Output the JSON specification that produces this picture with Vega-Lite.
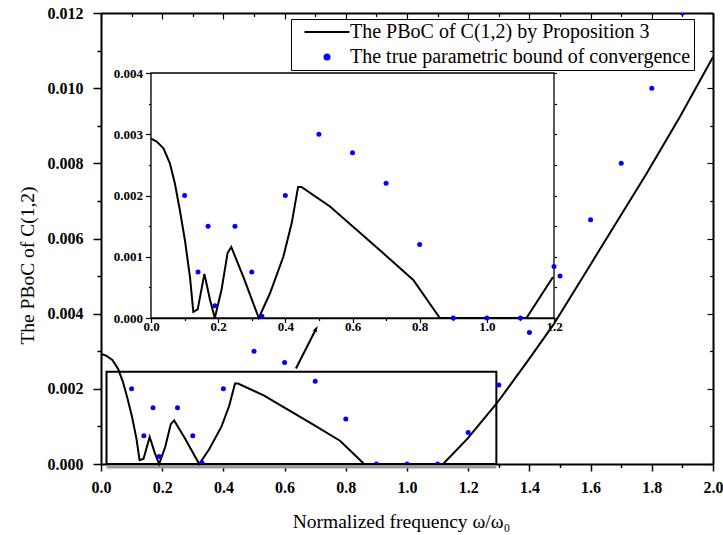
{
  "$schema": "https://vega.github.io/schema/vega-lite/v6.json",
  "width": 612,
  "height": 451,
  "autosize": {"type": "none"},
  "padding": {"left": 101, "top": 13, "right": 10, "bottom": 71},
  "background": "white",
  "config": {
    "view": {"stroke": null},
    "axis": {
      "grid": false,
      "domainColor": "black",
      "tickColor": "black",
      "labelColor": "black",
      "titleColor": "black",
      "labelFont": "Liberation Serif",
      "titleFont": "Liberation Serif",
      "labelFontWeight": "bold",
      "titleFontWeight": "normal",
      "labelFlush": false,
      "labelOverlap": false,
      "labelBound": false
    }
  },
  "datasets": {
    "curve": [
      {"x": 0.0, "y": 0.00293, "series": "The PBoC of C(1,2) by Proposition 3"},
      {"x": 0.017, "y": 0.00288, "series": "The PBoC of C(1,2) by Proposition 3"},
      {"x": 0.037, "y": 0.00277, "series": "The PBoC of C(1,2) by Proposition 3"},
      {"x": 0.056, "y": 0.00253, "series": "The PBoC of C(1,2) by Proposition 3"},
      {"x": 0.071, "y": 0.0022, "series": "The PBoC of C(1,2) by Proposition 3"},
      {"x": 0.086, "y": 0.00176, "series": "The PBoC of C(1,2) by Proposition 3"},
      {"x": 0.101, "y": 0.00127, "series": "The PBoC of C(1,2) by Proposition 3"},
      {"x": 0.116, "y": 0.00067, "series": "The PBoC of C(1,2) by Proposition 3"},
      {"x": 0.126, "y": 0.0001, "series": "The PBoC of C(1,2) by Proposition 3"},
      {"x": 0.139, "y": 0.00014, "series": "The PBoC of C(1,2) by Proposition 3"},
      {"x": 0.159, "y": 0.00072, "series": "The PBoC of C(1,2) by Proposition 3"},
      {"x": 0.176, "y": 0.00029, "series": "The PBoC of C(1,2) by Proposition 3"},
      {"x": 0.19, "y": 0.0, "series": "The PBoC of C(1,2) by Proposition 3"},
      {"x": 0.21, "y": 0.00046, "series": "The PBoC of C(1,2) by Proposition 3"},
      {"x": 0.228, "y": 0.00106, "series": "The PBoC of C(1,2) by Proposition 3"},
      {"x": 0.239, "y": 0.00116, "series": "The PBoC of C(1,2) by Proposition 3"},
      {"x": 0.275, "y": 0.00067, "series": "The PBoC of C(1,2) by Proposition 3"},
      {"x": 0.321, "y": 0.0, "series": "The PBoC of C(1,2) by Proposition 3"},
      {"x": 0.354, "y": 0.0004, "series": "The PBoC of C(1,2) by Proposition 3"},
      {"x": 0.394, "y": 0.001, "series": "The PBoC of C(1,2) by Proposition 3"},
      {"x": 0.419, "y": 0.00155, "series": "The PBoC of C(1,2) by Proposition 3"},
      {"x": 0.438, "y": 0.00214, "series": "The PBoC of C(1,2) by Proposition 3"},
      {"x": 0.448, "y": 0.00214, "series": "The PBoC of C(1,2) by Proposition 3"},
      {"x": 0.533, "y": 0.00182, "series": "The PBoC of C(1,2) by Proposition 3"},
      {"x": 0.612, "y": 0.00144, "series": "The PBoC of C(1,2) by Proposition 3"},
      {"x": 0.691, "y": 0.00106, "series": "The PBoC of C(1,2) by Proposition 3"},
      {"x": 0.781, "y": 0.00062, "series": "The PBoC of C(1,2) by Proposition 3"},
      {"x": 0.86, "y": 0.0, "series": "The PBoC of C(1,2) by Proposition 3"},
      {"x": 1.118, "y": 0.0, "series": "The PBoC of C(1,2) by Proposition 3"},
      {"x": 1.197, "y": 0.00067, "series": "The PBoC of C(1,2) by Proposition 3"},
      {"x": 1.293, "y": 0.00161, "series": "The PBoC of C(1,2) by Proposition 3"},
      {"x": 1.397, "y": 0.00277, "series": "The PBoC of C(1,2) by Proposition 3"},
      {"x": 1.478, "y": 0.0037, "series": "The PBoC of C(1,2) by Proposition 3"},
      {"x": 1.609, "y": 0.00543, "series": "The PBoC of C(1,2) by Proposition 3"},
      {"x": 1.783, "y": 0.00773, "series": "The PBoC of C(1,2) by Proposition 3"},
      {"x": 1.892, "y": 0.00924, "series": "The PBoC of C(1,2) by Proposition 3"},
      {"x": 2.0, "y": 0.01083, "series": "The PBoC of C(1,2) by Proposition 3"}
    ],
    "points": [
      {"x": 0.1, "y": 0.002, "series": "The true parametric bound of convergence"},
      {"x": 0.14, "y": 0.00075, "series": "The true parametric bound of convergence"},
      {"x": 0.17, "y": 0.0015, "series": "The true parametric bound of convergence"},
      {"x": 0.19, "y": 0.0002, "series": "The true parametric bound of convergence"},
      {"x": 0.25, "y": 0.0015, "series": "The true parametric bound of convergence"},
      {"x": 0.3, "y": 0.00075, "series": "The true parametric bound of convergence"},
      {"x": 0.33, "y": 0.00003, "series": "The true parametric bound of convergence"},
      {"x": 0.4, "y": 0.002, "series": "The true parametric bound of convergence"},
      {"x": 0.5, "y": 0.003, "series": "The true parametric bound of convergence"},
      {"x": 0.6, "y": 0.0027, "series": "The true parametric bound of convergence"},
      {"x": 0.7, "y": 0.0022, "series": "The true parametric bound of convergence"},
      {"x": 0.8, "y": 0.0012, "series": "The true parametric bound of convergence"},
      {"x": 0.9, "y": 0.0, "series": "The true parametric bound of convergence"},
      {"x": 1.0, "y": 0.0, "series": "The true parametric bound of convergence"},
      {"x": 1.1, "y": 0.0, "series": "The true parametric bound of convergence"},
      {"x": 1.2, "y": 0.00084, "series": "The true parametric bound of convergence"},
      {"x": 1.3, "y": 0.0021, "series": "The true parametric bound of convergence"},
      {"x": 1.4, "y": 0.0035, "series": "The true parametric bound of convergence"},
      {"x": 1.5, "y": 0.005, "series": "The true parametric bound of convergence"},
      {"x": 1.6, "y": 0.0065, "series": "The true parametric bound of convergence"},
      {"x": 1.7, "y": 0.008, "series": "The true parametric bound of convergence"},
      {"x": 1.8, "y": 0.01, "series": "The true parametric bound of convergence"},
      {"x": 1.9, "y": 0.012, "series": "The true parametric bound of convergence"}
    ]
  },
  "layer": [
    {
      "resolve": {"axis": {"x": "independent", "y": "independent"}},
      "layer": [
        {
          "data": {"values": [{}]},
          "mark": {"type": "rect", "fill": "#9a9a9a"},
          "encoding": {
            "x": {"datum": 0.018, "type": "quantitative", "scale": {"domain": [0, 2], "nice": false, "zero": false}, "axis": null},
            "x2": {"datum": 1.292},
            "y": {"datum": -0.00012, "type": "quantitative", "scale": {"domain": [0, 0.012], "nice": false}, "axis": null},
            "y2": {"datum": 0}
          }
        },
        {
          "data": {"values": [{}]},
          "mark": {"type": "rect", "fill": "transparent", "stroke": "black", "strokeWidth": 2},
          "encoding": {
            "x": {"datum": 0.018, "type": "quantitative", "axis": null},
            "x2": {"datum": 1.292},
            "y": {"datum": 0, "type": "quantitative", "axis": null},
            "y2": {"datum": 0.002455}
          }
        },
        {
          "data": {"name": "curve"},
          "mark": {"type": "line", "strokeWidth": 2},
          "encoding": {
            "x": {
              "field": "x", "type": "quantitative",
              "scale": {"domain": [0, 2], "nice": false, "zero": false},
              "axis": {
                "orient": "bottom",
                "values": [0, 0.1, 0.2, 0.3, 0.4, 0.5, 0.6, 0.7, 0.8, 0.9, 1, 1.1, 1.2, 1.3, 1.4, 1.5, 1.6, 1.7, 1.8, 1.9, 2],
                "labelExpr": "round(datum.value*10) % 2 == 0 ? format(datum.value, '.1f') : ''",
                "tickSize": {"condition": {"test": "round(datum.value*10) % 2 == 0", "value": 7}, "value": 3.5},
                "tickWidth": 1.5,
                "domainWidth": 2,
                "labelFontSize": 16,
                "labelPadding": 8,
                "title": "Normalized frequency ω/ω₀",
                "titleFontSize": 19.5,
                "titleX": 300,
                "titleY": 63,
                "titleAlign": "center",
                "titleBaseline": "alphabetic"
              }
            },
            "y": {
              "field": "y", "type": "quantitative",
              "scale": {"domain": [0, 0.012], "nice": false},
              "axis": {
                "orient": "left",
                "values": [0, 0.001, 0.002, 0.003, 0.004, 0.005, 0.006, 0.007, 0.008, 0.009, 0.01, 0.011, 0.012],
                "labelExpr": "round(datum.value*1000) % 2 == 0 ? format(datum.value, '.3f') : ''",
                "tickSize": {"condition": {"test": "round(datum.value*1000) % 2 == 0", "value": 8}, "value": 4},
                "tickWidth": 1.5,
                "domainWidth": 2,
                "labelFontSize": 16,
                "labelPadding": 10,
                "title": "The PBoC of C(1,2)",
                "titleFontSize": 19.5,
                "titleX": -74,
                "titleY": 252,
                "titleAlign": "center",
                "titleBaseline": "middle",
                "titleAngle": 270
              }
            },
            "color": {
              "field": "series", "type": "nominal",
              "scale": {"domain": ["The PBoC of C(1,2) by Proposition 3", "The true parametric bound of convergence"], "range": ["black", "blue"]},
              "legend": {
                "orient": "none",
                "legendX": 190,
                "legendY": 6,
                "title": null,
                "strokeColor": "black",
                "fillColor": "white",
                "padding": 3,
                "labelFont": "Liberation Serif",
                "labelFontSize": 20,
                "labelColor": "black",
                "labelLimit": 0,
                "symbolSize": 25,
                "symbolOffset": 23,
                "labelOffset": 13,
                "rowPadding": 5,
                "encode": {
                  "symbols": {
                    "update": {
                      "shape": {"signal": "datum.value == 'The PBoC of C(1,2) by Proposition 3' ? 'M-9,0H9' : 'circle'"},
                      "fill": {"signal": "datum.value == 'The PBoC of C(1,2) by Proposition 3' ? 'transparent' : 'blue'"},
                      "stroke": {"signal": "datum.value == 'The PBoC of C(1,2) by Proposition 3' ? 'black' : 'transparent'"},
                      "strokeWidth": {"value": 2},
                      "opacity": {"value": 1}
                    }
                  }
                }
              }
            }
          }
        },
        {
          "data": {"name": "points"},
          "mark": {"type": "point", "filled": true, "size": 25, "opacity": 1, "clip": true},
          "encoding": {
            "x": {
              "field": "x", "type": "quantitative",
              "axis": {
                "orient": "top",
                "values": [0, 0.1, 0.2, 0.3, 0.4, 0.5, 0.6, 0.7, 0.8, 0.9, 1, 1.1, 1.2, 1.3, 1.4, 1.5, 1.6, 1.7, 1.8, 1.9, 2],
                "labels": false,
                "title": null,
                "tickSize": {"condition": {"test": "round(datum.value*10) % 2 == 0", "value": -6}, "value": -3.5},
                "tickWidth": 1.2,
                "domainWidth": 2
              }
            },
            "y": {
              "field": "y", "type": "quantitative",
              "axis": {
                "orient": "right",
                "values": [0, 0.001, 0.002, 0.003, 0.004, 0.005, 0.006, 0.007, 0.008, 0.009, 0.01, 0.011, 0.012],
                "labels": false,
                "title": null,
                "tickSize": {"condition": {"test": "round(datum.value*1000) % 2 == 0", "value": -6}, "value": -3.5},
                "tickWidth": 1.2,
                "domainWidth": 2
              }
            },
            "color": {"field": "series", "type": "nominal"}
          }
        },
        {
          "data": {"values": [{}]},
          "mark": {"type": "rule", "strokeWidth": 2, "color": "black"},
          "encoding": {
            "x": {"datum": 0.637, "type": "quantitative", "axis": null},
            "y": {"datum": 0.00254, "type": "quantitative", "axis": null},
            "x2": {"datum": 0.701},
            "y2": {"datum": 0.003564}
          }
        },
        {
          "data": {"values": [{}]},
          "mark": {"type": "point", "shape": "M0,-1.6L-0.7,0.6L0.7,0.6Z", "size": 36, "angle": 27, "filled": true, "color": "black", "opacity": 1},
          "encoding": {
            "x": {"datum": 0.701, "type": "quantitative", "axis": null},
            "y": {"datum": 0.003564, "type": "quantitative", "axis": null}
          }
        }
      ]
    },
    {
      "resolve": {"axis": {"x": "independent", "y": "independent"}},
      "layer": [
        {
          "data": {"values": [{}]},
          "mark": {"type": "rect", "fill": "white", "stroke": "black", "strokeWidth": 1.3},
          "encoding": {
            "x": {"datum": 0, "type": "quantitative", "scale": {"domain": [0, 1.2], "range": [50, 453], "nice": false, "zero": false}, "axis": null},
            "x2": {"datum": 1.2},
            "y": {"datum": 0, "type": "quantitative", "scale": {"domain": [0, 0.004], "range": [305, 60], "nice": false}, "axis": null},
            "y2": {"datum": 0.004}
          }
        },
        {
          "data": {"name": "curve"},
          "transform": [{"filter": "datum.x <= 1.2"}],
          "mark": {"type": "line", "strokeWidth": 2, "color": "black"},
          "encoding": {
            "x": {
              "field": "x", "type": "quantitative",
              "scale": {"domain": [0, 1.2], "range": [50, 453], "nice": false, "zero": false},
              "axis": {
                "orient": "bottom",
                "offset": -146,
                "values": [0, 0.1, 0.2, 0.3, 0.4, 0.5, 0.6, 0.7, 0.8, 0.9, 1, 1.1, 1.2],
                "labelExpr": "round(datum.value*10) % 2 == 0 ? format(datum.value, '.1f') : ''",
                "tickSize": {"condition": {"test": "round(datum.value*10) % 2 == 0", "value": 4.5}, "value": 2.5},
                "tickWidth": 1.2,
                "domainWidth": 1.3,
                "labelFontSize": 13,
                "labelPadding": -2,
                "title": null
              }
            },
            "y": {
              "field": "y", "type": "quantitative",
              "scale": {"domain": [0, 0.004], "range": [305, 60], "nice": false},
              "axis": {
                "orient": "left",
                "offset": -50,
                "values": [0, 0.0005, 0.001, 0.0015, 0.002, 0.0025, 0.003, 0.0035, 0.004],
                "labelExpr": "round(datum.value*2000) % 2 == 0 ? format(datum.value, '.3f') : ''",
                "tickSize": {"condition": {"test": "round(datum.value*2000) % 2 == 0", "value": 5.5}, "value": 2.5},
                "tickWidth": 1.2,
                "domainWidth": 1.3,
                "labelFontSize": 13,
                "labelPadding": 3,
                "title": null
              }
            }
          }
        },
        {
          "data": {"name": "points"},
          "transform": [{"filter": "datum.x <= 1.2"}],
          "mark": {"type": "point", "filled": true, "size": 25, "color": "blue", "opacity": 1},
          "encoding": {
            "x": {"field": "x", "type": "quantitative", "axis": null},
            "y": {
              "field": "y", "type": "quantitative",
              "axis": {
                "orient": "right",
                "offset": -159,
                "values": [0, 0.0005, 0.001, 0.0015, 0.002, 0.0025, 0.003, 0.0035, 0.004],
                "labels": false,
                "title": null,
                "tickSize": 2.5,
                "tickWidth": 1.2,
                "domain": false
              }
            }
          }
        }
      ]
    }
  ],
  "resolve": {"scale": {"x": "independent", "y": "independent"}, "axis": {"x": "independent", "y": "independent"}}
}
